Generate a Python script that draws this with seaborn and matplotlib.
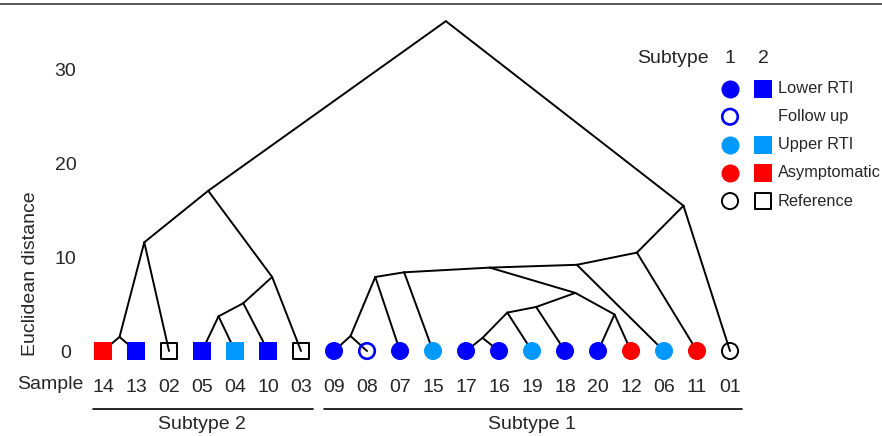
import numpy as np
import pandas as pd
import matplotlib.pyplot as plt
import seaborn as sns

# leaves, left to right
samples = ['14', '13', '02', '05', '04', '10', '03', '09', '08', '07',
           '15', '17', '16', '19', '18', '20', '12', '06', '11', '01']
subtypes = ['2'] * 7 + ['1'] * 13
groups = ['Asymptomatic', 'Lower RTI', 'Reference', 'Lower RTI', 'Upper RTI',
          'Lower RTI', 'Reference', 'Lower RTI', 'Follow up', 'Lower RTI',
          'Upper RTI', 'Lower RTI', 'Lower RTI', 'Upper RTI', 'Lower RTI',
          'Lower RTI', 'Asymptomatic', 'Upper RTI', 'Asymptomatic', 'Reference']

# linkage (leaf ids 0-19, merged nodes numbered from 20 on)
merge_left = [0, 20, 3, 22, 23, 21, 7, 26, 27, 11, 29, 30, 15, 31, 28, 34, 35, 36, 25]
merge_right = [1, 2, 4, 5, 6, 24, 8, 9, 10, 12, 13, 14, 16, 32, 33, 17, 18, 19, 37]
merge_height = [1.5, 11.6, 3.7, 5.1, 7.9, 17.1, 1.6, 7.9, 8.4, 1.4,
                4.1, 4.7, 3.9, 6.2, 8.9, 9.2, 10.5, 15.5, 35.2]

legend_groups = ['Lower RTI', 'Follow up', 'Upper RTI', 'Asymptomatic', 'Reference']
colors = {'Lower RTI': '#0000FF', 'Follow up': '#0000FF', 'Upper RTI': '#0099FF',
          'Asymptomatic': '#FF0000', 'Reference': 'black'}

sns.set_style('white')
plt.rcParams['font.family'] = ['Liberation Sans', 'DejaVu Sans']

fig = plt.figure(figsize=(8.82, 4.36), dpi=100)
ax = fig.add_axes([0.0794, 0.1627, 0.7857, 0.8167])

# node positions: x is the mean of the two children
xpos = list(range(len(samples)))
ypos = [0.0] * len(samples)
for l, r, h in zip(merge_left, merge_right, merge_height):
    xpos.append((xpos[l] + xpos[r]) / 2)
    ypos.append(h)

n = len(samples)
for k, (l, r) in enumerate(zip(merge_left, merge_right)):
    p = n + k
    for c in (l, r):
        ax.plot([xpos[p], xpos[c]], [ypos[p], ypos[c]], color='black', lw=1.4,
                solid_capstyle='round', zorder=1, clip_on=False)

df = pd.DataFrame({'x': range(n), 'y': 0.0, 'sample': samples,
                   'subtype': subtypes, 'group': groups})
filled = df[~df['group'].isin(['Reference', 'Follow up'])]
sns.scatterplot(data=filled, x='x', y='y', hue='group', style='subtype',
                palette=colors, markers={'1': 'o', '2': 's'}, s=169,
                linewidth=0, legend=False, ax=ax, zorder=3, clip_on=False)

for _, row in df[df['group'] == 'Follow up'].iterrows():
    ax.scatter(row['x'], row['y'], s=125, marker='o', facecolor='none',
               edgecolor=colors['Follow up'], linewidth=1.9, zorder=3, clip_on=False)
for _, row in df[df['group'] == 'Reference'].iterrows():
    ax.scatter(row['x'], row['y'], s=135, marker='o' if row['subtype'] == '1' else 's',
               facecolor='none', edgecolor='black', linewidth=1.4, zorder=3, clip_on=False)

ax.set_xlim(-1, 20)
ax.set_ylim(-1.5, 36.5)
ax.set_xticks(range(n), samples)
ax.tick_params(axis='x', length=0, pad=15.8, labelsize=14)
for t in ax.get_xticklabels():
    t.set_va('center')
ax.set_yticks([0, 10, 20, 30])
ax.tick_params(axis='y', length=0, pad=3.2, labelsize=14)
for t in ax.get_yticklabels():
    t.set_ha('center')
ax.set_xlabel('')
ax.set_ylabel('Euclidean distance', fontsize=14)
ax.yaxis.set_label_coords(-0.0447, 0.258)
sns.despine(ax=ax, left=True, bottom=True)

ax.text(-1.6, -3.6, 'Sample', fontsize=14, ha='center', va='center')

# subtype brackets under the sample labels
for lo, hi, name in [(0, 6, 'Subtype 2'), (7, 19, 'Subtype 1')]:
    ax.plot([lo - 0.3, hi + 0.35], [-6.2, -6.2], color='black', lw=1.2, clip_on=False)
    ax.text((lo + hi) / 2, -7.8, name, fontsize=14, ha='center', va='center')

# legend
ax.text(18.36, 31.2, 'Subtype', fontsize=14, ha='right', va='center')
ax.text(19, 31.2, '1', fontsize=14, ha='center', va='center')
ax.text(20, 31.2, '2', fontsize=14, ha='center', va='center')
rows = [28, 25, 22, 19, 16]
for g, yy in zip(legend_groups, rows):
    if g == 'Follow up':
        ax.scatter(19, yy, s=125, marker='o', facecolor='none', edgecolor=colors[g],
                   linewidth=1.9, clip_on=False)
    elif g == 'Reference':
        ax.scatter(19, yy, s=135, marker='o', facecolor='none', edgecolor='black',
                   linewidth=1.4, clip_on=False)
        ax.scatter(20, yy, s=135, marker='s', facecolor='none', edgecolor='black',
                   linewidth=1.4, clip_on=False)
    else:
        ax.scatter(19, yy, s=169, marker='o', color=colors[g], linewidth=0, clip_on=False)
        ax.scatter(20, yy, s=169, marker='s', color=colors[g], linewidth=0, clip_on=False)
    ax.text(20.45, yy, g, fontsize=11.8, ha='left', va='center')

fig.add_artist(plt.Line2D([0, 1], [0.9905, 0.9905], color='#3a3a3a', lw=1.2,
                          transform=fig.transFigure))

fig.savefig('out.png', dpi=100)
